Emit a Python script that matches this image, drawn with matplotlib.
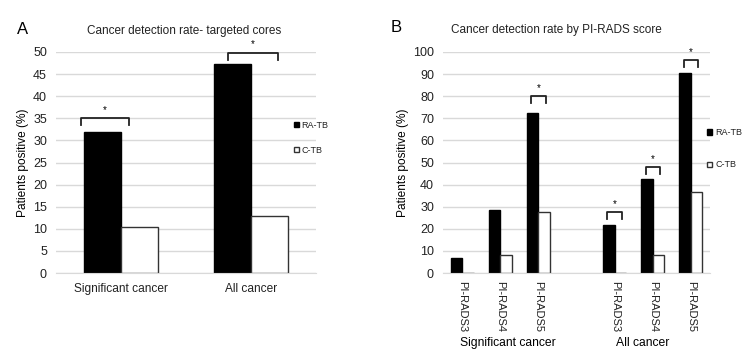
import matplotlib.pyplot as plt
from matplotlib.patches import Patch
import numpy as np

plt.rcParams['font.family'] = ['Liberation Sans', 'DejaVu Sans']

# Panel A data
a_categories = ['Significant cancer', 'All cancer']
a_ratb = [32.0, 47.2]
a_ctb = [10.3, 12.8]
# brackets: (category index, left offset, right offset, top value)
a_brackets = [(0, -0.31, 0.06, 35.0), (1, -0.18, 0.21, 49.8)]

# Panel B data
b_ticks = ['PI-RADS3', 'PI-RADS4', 'PI-RADS5', 'PI-RADS3', 'PI-RADS4', 'PI-RADS5']
b_pos = [0, 1, 2, 4, 5, 6]
b_groups = ['Significant cancer', 'All cancer']
b_ratb = [7.0, 28.5, 72.5, 21.5, 42.5, 90.5]
b_ctb = [0.0, 8.0, 27.5, 0.0, 8.0, 36.5]
b_brackets = [(2, 80.0), (4, 27.6), (5, 48.0), (6, 96.4)]

grid_color = '#d9d9d9'
fig = plt.figure(figsize=(7.47, 3.6), dpi=100)
W, H = 747, 360


def style(ax):
    for s in ['top', 'right', 'left']:
        ax.spines[s].set_visible(False)
    ax.spines['bottom'].set_color(grid_color)
    ax.yaxis.grid(True, color=grid_color, linewidth=1)
    ax.set_axisbelow(True)
    ax.tick_params(length=0, labelsize=9, colors='#222222')
    ax.tick_params(axis='y', pad=6.5)


def bracket(ax, x0, x1, top, leg, star_gap):
    ax.plot([x0, x0, x1, x1], [top - leg, top, top, top - leg], color='#222222', lw=1.3)
    ax.text((x0 + x1) / 2, top + star_gap, '*', ha='center', va='bottom', fontsize=7)


def legend(ax, anchor, spacing):
    ax.legend(handles=[Patch(facecolor='black', edgecolor='black', label='RA-TB'),
                       Patch(facecolor='white', edgecolor='#333333', label='C-TB')],
              loc='upper left', bbox_to_anchor=anchor, frameon=False, borderpad=0,
              borderaxespad=0, fontsize=6.5, handlelength=0.55, handleheight=0.55,
              handletextpad=0.3, labelspacing=spacing, labelcolor='#222222')


# ---- Panel A
axA = fig.add_axes([56 / W, (H - 273) / H, 260 / W, 221 / H])
style(axA)
w = 0.285
x = np.arange(len(a_categories))
axA.bar(x - w / 2, a_ratb, w, color='black', edgecolor='black', lw=1)
axA.bar(x + w / 2, a_ctb, w, color='white', edgecolor='#333333', lw=1)
axA.set_xlim(-0.5, 1.5)
axA.set_ylim(0, 50)
axA.set_yticks(range(0, 51, 5))
axA.set_xticks(x)
axA.set_xticklabels(a_categories, fontsize=8.6)
axA.tick_params(axis='x', pad=7)
axA.set_ylabel('Patients positive (%)', fontsize=8.6, labelpad=3)
for i, l, r, top in a_brackets:
    bracket(axA, i + l, i + r, top, 1.5, 0.8)
legend(axA, (0.915, 0.69), 1.8)
fig.text(23 / W, 1 - 30 / H, 'A', fontsize=12, va='center', ha='center')
fig.text(184 / W, 1 - 31 / H, 'Cancer detection rate- targeted cores', fontsize=8.5,
         va='center', ha='center', color='#222222')

# ---- Panel B
axB = fig.add_axes([443 / W, (H - 273) / H, 267 / W, 221 / H])
style(axB)
wb = 0.3
pb = np.array(b_pos)
axB.bar(pb - wb / 2, b_ratb, wb, color='black', edgecolor='black', lw=1)
axB.bar(pb + wb / 2, b_ctb, wb, color='white', edgecolor='#333333', lw=1)
axB.set_xlim(-0.5, 6.5)
axB.set_ylim(0, 100)
axB.set_yticks(range(0, 101, 10))
axB.set_xticks(pb)
axB.set_xticklabels(b_ticks, rotation=270, fontsize=8)
axB.tick_params(axis='x', pad=6)
axB.set_ylabel('Patients positive (%)', fontsize=8.6, labelpad=3)
for i, top in b_brackets:
    bracket(axB, i - 0.19, i + 0.19, top, 3.0, 1.5)
legend(axB, (0.99, 0.656), 2.6)
fig.text(508 / W, 1 - 343 / H, b_groups[0], fontsize=8.7, ha='center', va='center')
fig.text(643 / W, 1 - 343 / H, b_groups[1], fontsize=8.7, ha='center', va='center')
fig.text(396 / W, 1 - 28 / H, 'B', fontsize=12, va='center', ha='center')
fig.text(556 / W, 1 - 30 / H, 'Cancer detection rate by PI-RADS score', fontsize=8.5,
         va='center', ha='center', color='#222222')

fig.savefig('out.png', dpi=100)
